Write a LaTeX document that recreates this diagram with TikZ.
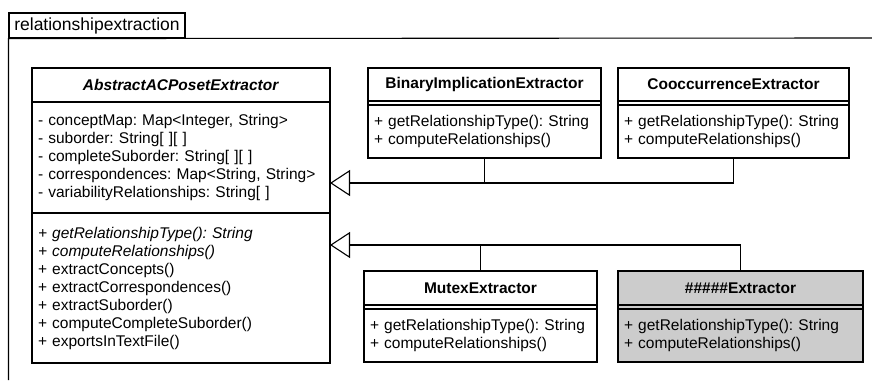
\documentclass[tikz,border=0pt]{standalone}
\usepackage{fontspec}
\setmainfont{Liberation Sans}
\usepackage{tikz}
\usetikzlibrary{shapes,positioning,calc,arrows.meta}
\definecolor{hiddengray}{RGB}{204,204,204}
\frenchspacing
\tikzset{
    pkgtab/.style={rectangle, draw, inner sep=0pt, minimum width=176pt, minimum height=25pt, font=\fontsize{17.5}{20}\selectfont},
    classname/.style={rectangle, draw, fill=white, outer sep=0pt, inner xsep=6pt, inner ysep=0pt, align=center, text width=#1, font=\fontsize{15.5}{18}\selectfont\bfseries},
    classbody/.style={rectangle, draw, fill=white, outer sep=0pt, inner xsep=6pt, inner ysep=0pt, align=left, text width=#1, font=\fontsize{15.5}{18}\selectfont},
    classgap/.style={rectangle, draw, fill=white, outer sep=0pt, inner sep=0pt, minimum width=#1, minimum height=4pt},
    inherit/.style={-{Triangle[open, length=20pt, width=26pt]}},
}
\begin{document}
\begin{tikzpicture}[x=1pt, y=-1pt, line width=1.1pt]
        \useasboundingbox (0,0) rectangle (872,380);
        \node [pkgtab] (package) at (97,25.5) {relationshipextraction};
        \draw (package.south west |- 0,380) -- (package.south west) -- (872,38);

        \node [classname=286pt, minimum height=34pt] (abstract) at (181,85) {\textit{AbstractACPosetExtractor}};
        \node [classbody=286pt, minimum height=111pt, below=0pt of abstract] (abstractattr) {
            - conceptMap: Map<Integer, String>\\
            - suborder: String[ ][ ]\\
            - completeSuborder: String[ ][ ]\\
            - correspondences: Map<String, String>\\
            - variabilityRelationships: String[ ]
        };
        \node [classbody=286pt, minimum height=150pt, below=0pt of abstractattr] (abstractops) {
            \textit{+ getRelationshipType(): String}\\
            \textit{+ computeRelationships()}\\
            + extractConcepts()\\
            + extractCorrespondences()\\
            + extractSuborder()\\
            + computeCompleteSuborder()\\
            + exportsInTextFile()
        };

        \node [classname=221pt, minimum height=33pt] (binary) at (484.5,84.5) {BinaryImplicationExtractor};
        \node [classgap=233pt, below=0pt of binary] (binaryattr) {};
        \node [classbody=221pt, minimum height=53pt, below=0pt of binaryattr] (binaryops) {
            + getRelationshipType(): String\\
            + computeRelationships()
        };

        \node [classname=219pt, minimum height=33pt] (cooc) at (733.5,84.5) {CooccurrenceExtractor};
        \node [classgap=231pt, below=0pt of cooc] (coocattr) {};
        \node [classbody=219pt, minimum height=53pt, below=0pt of coocattr] (coocops) {
            + getRelationshipType(): String\\
            + computeRelationships()
        };

        \node [classname=221pt, minimum height=34pt] (mutex) at (480.5,288) {MutexExtractor};
        \node [classgap=233pt, below=0pt of mutex] (mutexattr) {};
        \node [classbody=221pt, minimum height=53pt, below=0pt of mutexattr] (mutexops) {
            + getRelationshipType(): String\\
            + computeRelationships()
        };

        \node [classname=233pt, minimum height=34pt, fill=hiddengray] (hidden) at (740.5,288) {\#\#\#\#\#Extractor};
        \node [classgap=245pt, fill=hiddengray, below=0pt of hidden] (hiddenattr) {};
        \node [classbody=233pt, minimum height=53pt, fill=hiddengray, below=0pt of hiddenattr] (hiddenops) {
            + getRelationshipType(): String\\
            + computeRelationships()
        };

        \coordinate (uppertip) at (abstractattr.east |- 0,183);
        \coordinate (lowertip) at (abstractops.east |- 0,245);
        \draw [inherit] (coocops.south) |- (uppertip);
        \draw (binaryops.south) -- (binaryops.south |- uppertip);
        \draw [inherit] (hidden.north) |- (lowertip);
        \draw (mutex.north) -- (mutex.north |- lowertip);
    \end{tikzpicture}
\end{document}
